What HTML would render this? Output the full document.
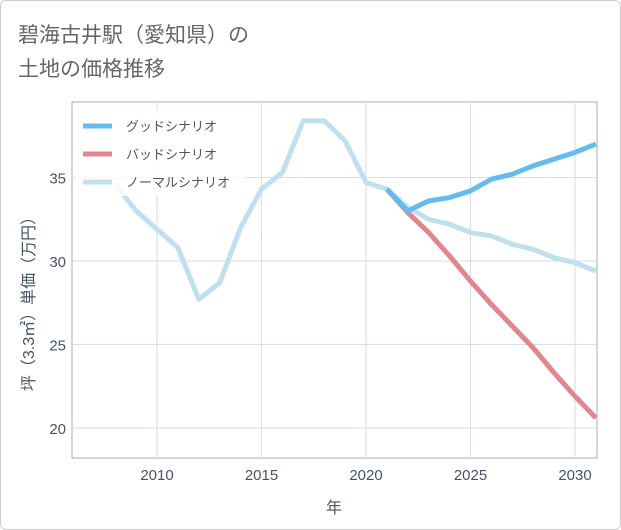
<!DOCTYPE html>
<html><head><meta charset="utf-8"><style>
body{margin:0;background:#fff;font-family:"Liberation Sans","Noto Sans CJK JP",sans-serif}
</style></head><body>
<div style="position:relative;width:619px;height:528px;border:1px solid #ccc;border-radius:6px;overflow:hidden">
<svg id="chart" width="621" height="530" style="position:absolute;left:-1px;top:-1px">
<text x="18" y="42" font-size="21" fill="#666">碧海古井駅（愛知県）の</text>
<text x="18" y="76" font-size="21" fill="#666">土地の価格推移</text>
<g id="grid"></g><g id="series"></g><g id="legend"></g>
<text x="334" y="513" font-size="16" fill="#445566" text-anchor="middle">年</text>
<text transform="translate(34,300) rotate(-90)" font-size="16" fill="#445566" text-anchor="middle">坪（3.3㎡）単価（万円）</text>
</svg></div>
<script>
const years=[2008,2009,2010,2011,2012,2013,2014,2015,2016,2017,2018,2019,2020,2021,2022,2023,2024,2025,2026,2027,2028,2029,2030,2031];
const normal=[34.6,33.0,31.9,30.8,27.7,28.7,32.0,34.3,35.3,38.4,38.4,37.2,34.7,34.3,33.2,32.5,32.2,31.7,31.5,31.0,30.7,30.2,29.9,29.4];
const fYears=[2021,2022,2023,2024,2025,2026,2027,2028,2029,2030,2031];
const good=[34.3,33.0,33.6,33.8,34.2,34.9,35.2,35.7,36.1,36.5,37.0];
const bad=[34.3,32.9,31.7,30.3,28.8,27.4,26.1,24.8,23.3,21.9,20.6];
const xTicks=[2010,2015,2020,2025,2030];
const yTicks=[20,25,30,35];
const L=72,R=597,T=102,B=458;
const xs=v=>157+(v-2010)*20.9;
const ys=v=>428-(v-20)*16.7;
const NS="http://www.w3.org/2000/svg";
function mk(tag,attrs,parent){const e=document.createElementNS(NS,tag);for(const k in attrs)e.setAttribute(k,attrs[k]);parent.appendChild(e);return e;}
const grid=document.getElementById('grid');
const frame=mk('rect',{x:L,y:T,width:R-L,height:B-T,fill:'none',stroke:'#aab'},grid);


xTicks.forEach(t=>{
 const l=mk('line',{x1:xs(t),x2:xs(t),y1:T,y2:B,stroke:'#d5dde5'},grid);
 
 
 const tx=mk('text',{x:xs(t),y:480,'font-size':15,fill:'#445566','text-anchor':'middle'},grid);
 tx.textContent=t;
 
 
});
yTicks.forEach(t=>{
 const l=mk('line',{x1:L,x2:R,y1:ys(t),y2:ys(t),stroke:'#d5dde5'},grid);
 
 
 const tx=mk('text',{x:66,y:ys(t)+6,'font-size':15,fill:'#445566','text-anchor':'end'},grid);
 tx.textContent=t;
 
 
});
const ser=document.getElementById('series');
function line(xv,yv,color,name){
 const p=mk('polyline',{points:xv.map((x,i)=>xs(x)+','+ys(yv[i])).join(' '),fill:'none',stroke:color,'stroke-width':5,'stroke-linejoin':'round'},ser);
 
 
}
line(years,normal,'#c0e0ee','normal-scenario-line');
line(fYears,bad,'#e0868e','bad-scenario-line');
line(fYears,good,'#66bbee','good-scenario-line');
const lg=document.getElementById('legend');
const bg=mk('rect',{x:76,y:110,width:170,height:86,fill:'#fff','fill-opacity':0.8},lg);


[['グッドシナリオ','#66bbee'],['バッドシナリオ','#e0868e'],['ノーマルシナリオ','#c0e0ee']].forEach((d,i)=>{
 const y=126+i*28;
 const s=mk('line',{x1:83,x2:112,y1:y,y2:y,stroke:d[1],'stroke-width':5},lg);
 
 
 const t=mk('text',{x:126,y:y+5,'font-size':13,fill:'#555'},lg);
 t.textContent=d[0];
 
 
});
</script>
</body></html>
